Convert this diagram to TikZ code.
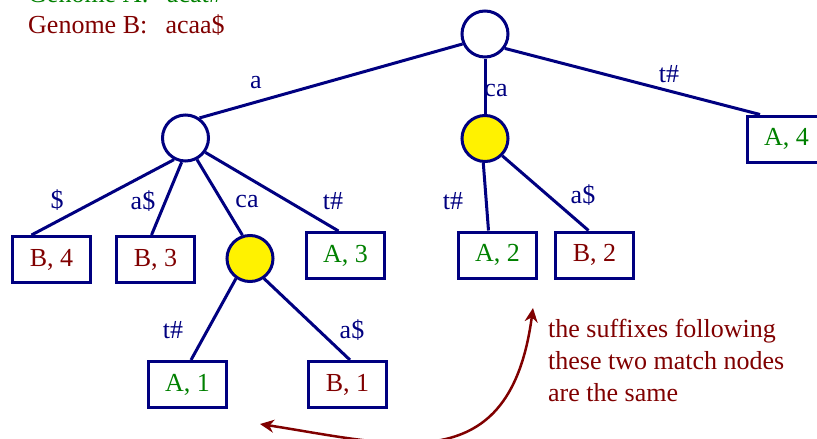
\documentclass[tikz,border=0pt]{standalone}
\usepackage{fontspec}
\setmainfont{Liberation Serif}
\usepackage{tikz}
\usetikzlibrary{arrows.meta,positioning,calc}
\definecolor{treeblue}{RGB}{0,0,128}
\definecolor{genA}{RGB}{0,128,0}
\definecolor{genB}{RGB}{128,0,0}

\begin{document}
\begin{tikzpicture}[
x=1pt,y=-1pt,on grid,
font=\fontsize{26pt}{32pt}\selectfont,
internal/.style={circle,draw=treeblue,line width=3pt,fill=white,minimum size=46pt,inner sep=0pt},
match/.style={internal,fill=yellow},
leaf/.style={rectangle,draw=treeblue,line width=3pt,minimum width=78.5pt,minimum height=46pt,inner sep=0pt},
leafA/.style={leaf,text=genA},
leafB/.style={leaf,text=genB},
lbl/.style={text=treeblue,inner sep=0pt},
branch/.style={draw=treeblue,line width=3pt},
remarkarr/.style={{Stealth[length=14pt,width=13pt]}-{Stealth[length=14pt,width=13pt]},draw=genB,line width=2.5pt}
]
\useasboundingbox (0,0) rectangle (817,439);

\node[anchor=base west,inner sep=0pt,text=genA] (genomeA) at (28,2) {Genome A:\hspace{0.7em}acat\#};
\node[anchor=base west,inner sep=0pt,text=genB] (genomeB) at (28,33) {Genome B:\hspace{0.7em}acaa\$};

\node[internal] (root) at (485,34) {};
\node[internal,below left=104pt and 299.5pt of root] (na) {};
\node[match,below=104.5pt of root] (ca2) {};
\node[leafA,below right=105pt and 301.5pt of root] (a4) {A, 4};
\node[leafB,below left=121.5pt and 134pt of na] (b4) {B, 4};
\node[leafB,right=104pt of b4] (b3) {B, 3};
\node[match,below right=120.5pt and 64.5pt of na] (ca1) {};
\node[leafA,below right=117.5pt and 160pt of na] (a3) {A, 3};
\node[leafA,below right=116.5pt and 12.5pt of ca2] (a2) {A, 2};
\node[leafB,right=97pt of a2] (b2) {B, 2};
\node[leafA,below left=126pt and 62.5pt of ca1] (a1) {A, 1};
\node[leafB,right=160pt of a1] (b1) {B, 1};

\draw[branch] (root.204.7) -- (na.55.8);
\draw[branch] (root) -- (ca2);
\draw[branch] (root.324.5) -- ($(a4.north)+(-26.5,0)$);
\draw[branch] (na.242.5) -- ($(b4.north)+(-20,0)$);
\draw[branch] (na.261) -- ($(b3.north)+(-4,0)$);
\draw[branch] (na.298.7) -- (ca1.108.8);
\draw[branch] (na.324.7) -- ($(a3.north)+(-7,0)$);
\draw[branch] (ca2.266) -- ($(a2.north)+(-9,0)$);
\draw[branch] (ca2.315) -- ($(b2.north)+(-6,0)$);
\draw[branch] (ca1.235.5) -- ($(a1.north)+(3.5,0)$);
\draw[branch] (ca1.305) -- ($(b1.north)+(2.5,0)$);

% edge labels
\node[lbl] (la) at (256,83) {a};
\node[lbl] (lca) at (496,91) {ca};
\node[lbl] (lt4) at (669,74) {t\#};
\node[lbl] (ld4) at (57,200) {\$};
\node[lbl] (la3) at (143,201) {a\$};
\node[lbl] (lca1) at (247,201) {ca};
\node[lbl] (lt3) at (333,201) {t\#};
\node[lbl] (lt2) at (453,201) {t\#};
\node[lbl] (la2) at (583,195) {a\$};
\node[lbl] (lt1) at (173,330) {t\#};
\node[lbl] (la1) at (352,330) {a\$};

% the note and its arrow
\node[text=genB,align=left,anchor=base west,inner sep=0pt] (remark) at (548,401) {the suffixes following\\these two match nodes\\are the same};
\coordinate (tipl) at (260,424);
\coordinate (tipr) at (533,308);
\draw[remarkarr] (tipl) .. controls (400,446) and (510,480) .. (tipr);
\end{tikzpicture}
\end{document}
